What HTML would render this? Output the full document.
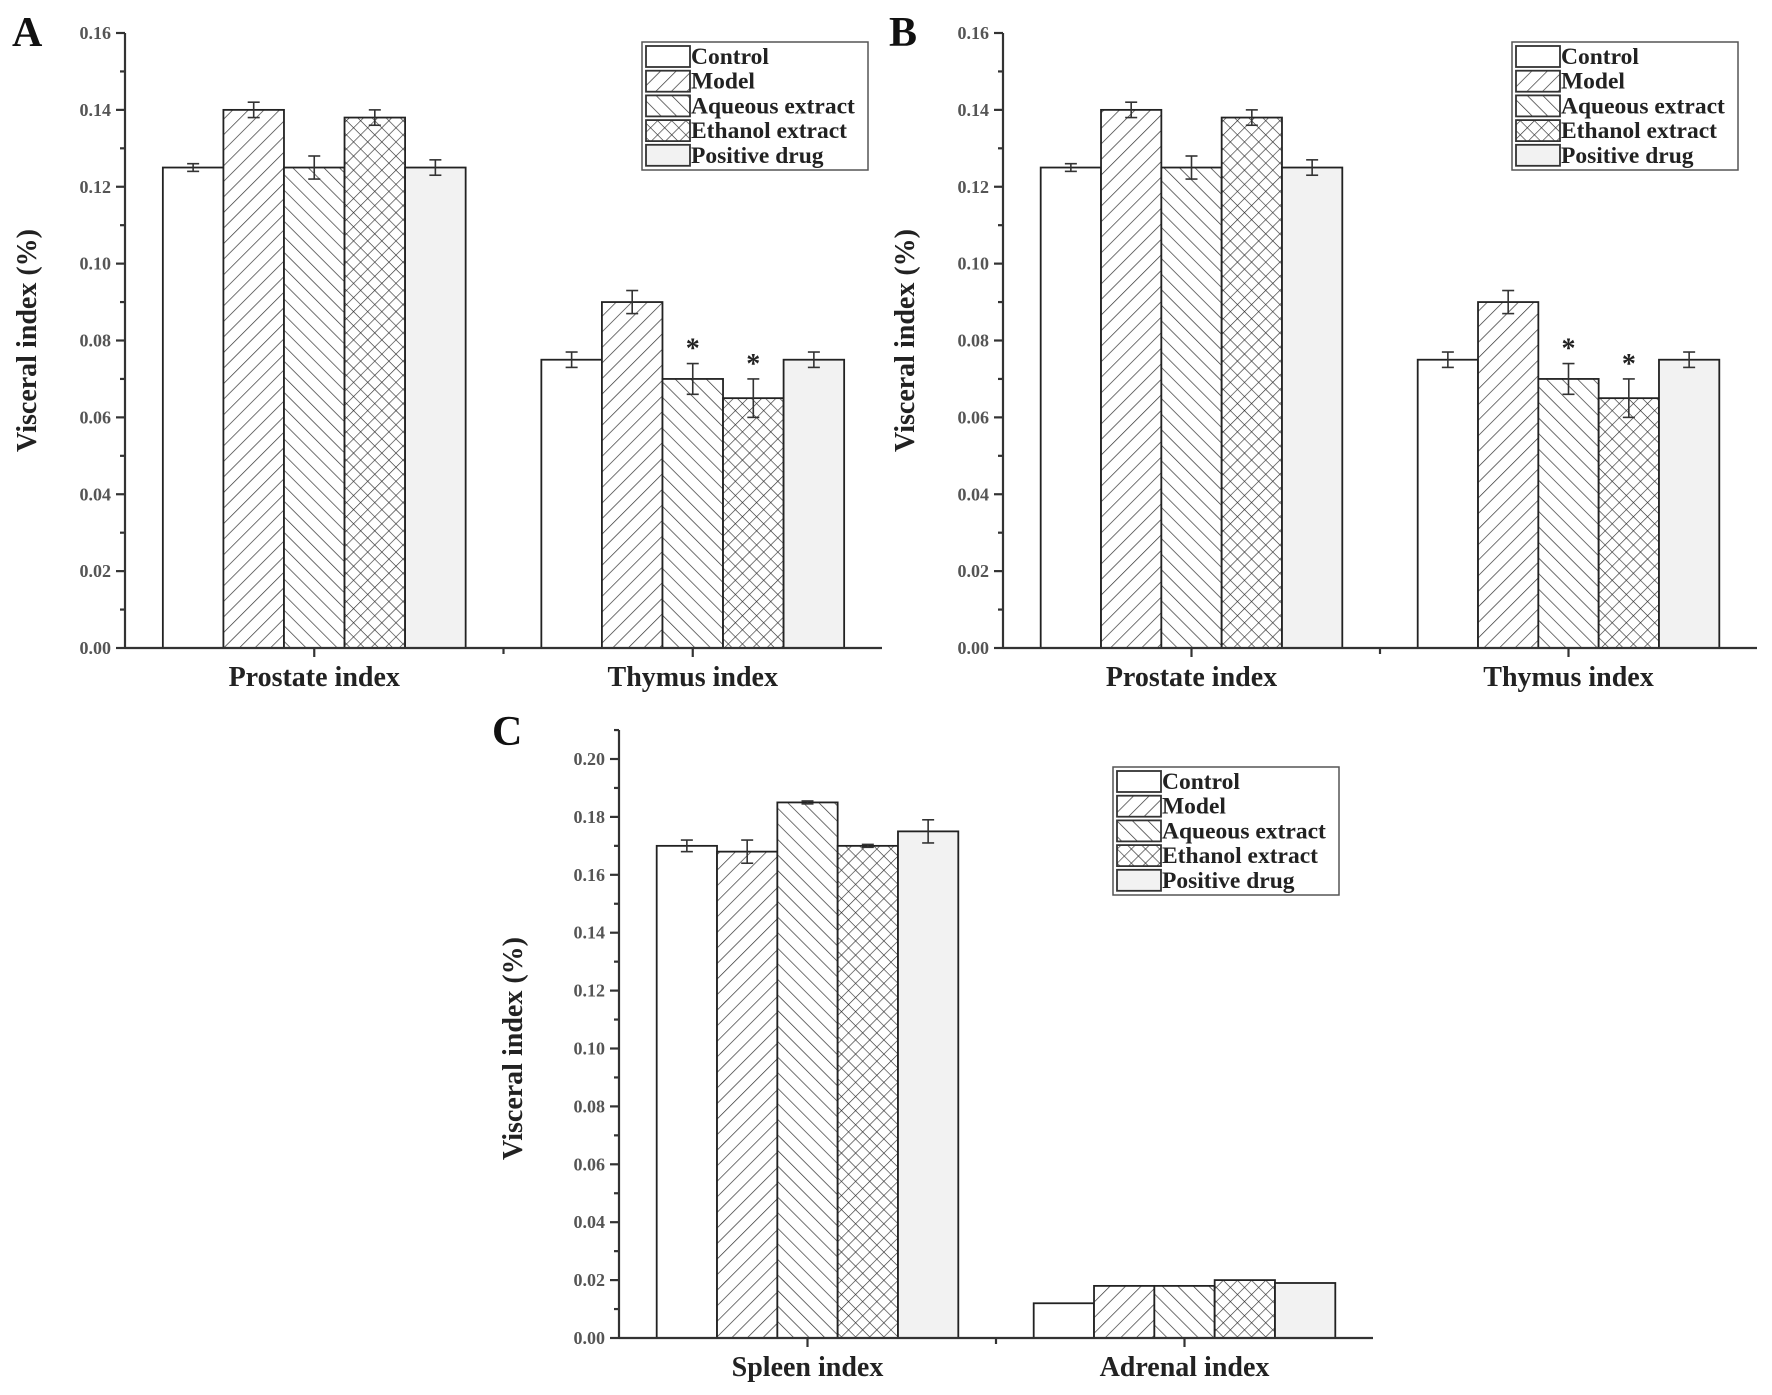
<!DOCTYPE html>
<html><head><meta charset="utf-8">
<style>
html,body{margin:0;padding:0;background:#fff;}
svg{display:block;font-family:"Liberation Serif",serif;}
</style></head>
<body>
<svg id="fig" width="1772" height="1395" viewBox="0 0 1772 1395" xmlns="http://www.w3.org/2000/svg">
<defs>
<pattern id="pFwd" patternUnits="userSpaceOnUse" width="11" height="11" patternTransform="rotate(45)"><rect width="11" height="11" fill="#fff"/><line x1="0" y1="0" x2="0" y2="11" stroke="#333" stroke-width="1.4"/></pattern>
<pattern id="pBack" patternUnits="userSpaceOnUse" width="11" height="11" patternTransform="rotate(-45)"><rect width="11" height="11" fill="#fff"/><line x1="0" y1="0" x2="0" y2="11" stroke="#333" stroke-width="1.4"/></pattern>
<pattern id="pCross" patternUnits="userSpaceOnUse" width="10" height="10" patternTransform="rotate(45)"><rect width="10" height="10" fill="#fff"/><line x1="0" y1="0" x2="0" y2="10" stroke="#333" stroke-width="1.3"/><line x1="0" y1="0" x2="10" y2="0" stroke="#333" stroke-width="1.3"/></pattern>
</defs>
</svg>
<script>
const seriesNames = ["Control","Model","Aqueous extract","Ethanol extract","Positive drug"];
const catsAB = ["Prostate index","Thymus index"];
const valsAB = [[0.125,0.075],[0.140,0.090],[0.125,0.070],[0.138,0.065],[0.125,0.075]];
const errsAB = [[0.001,0.002],[0.002,0.003],[0.003,0.004],[0.002,0.005],[0.002,0.002]];
const starsAB = [[false,false],[false,false],[false,true],[false,true],[false,false]];
const ticksAB = ["0.00","0.02","0.04","0.06","0.08","0.10","0.12","0.14","0.16"];
const catsC = ["Spleen index","Adrenal index"];
const valsC = [[0.170,0.012],[0.168,0.018],[0.185,0.018],[0.170,0.020],[0.175,0.019]];
const errsC = [[0.002,0],[0.004,0],[0.0005,0],[0.0005,0],[0.004,0]];
const starsC = [[false,false],[false,false],[false,false],[false,false],[false,false]];
const ticksC = ["0.00","0.02","0.04","0.06","0.08","0.10","0.12","0.14","0.16","0.18","0.20"];

const fills = ["#fff","url(#pFwd)","url(#pBack)","url(#pCross)","#f2f2f2"];
const NS = "http://www.w3.org/2000/svg";
const svg = document.getElementById('fig');
function mk(tag, attrs, parent, text){
  const e = document.createElementNS(NS, tag);
  for (const k in attrs) e.setAttribute(k, attrs[k]);
  if (text !== undefined) e.textContent = text;
  parent.appendChild(e);
  return e;
}
function panel(p){
  const g = mk('g', {}, svg);
  
  
  const ymax = parseFloat(p.ticks[p.ticks.length-1]);
  const yS = v => p.y0 - (v / ymax) * (p.y0 - p.yTop);
  const catW = (p.x1 - p.x0) / p.cats.length;
  const xC = i => p.x0 + catW * (i + 0.5);
  const bw = catW * 0.8 / seriesNames.length;
  const L = mk('text', {x:p.lx, y:p.ly, 'font-size':42, 'font-weight':'bold', fill:'#111'}, g, p.id);
  
  
  for (let s = 0; s < seriesNames.length; s++){
    for (let c = 0; c < p.cats.length; c++){
      const v = p.vals[s][c];
      const x = xC(c) - catW*0.4 + s*bw;
      const r = mk('rect', {x:x, y:yS(v), width:bw, height:p.y0 - yS(v), fill:fills[s], stroke:'#222', 'stroke-width':1.8}, g);
      
      
      const e = p.errs[s][c];
      if (e > 0){
        const cx = x + bw/2;
        const eg = mk('g', {stroke:'#333','stroke-width':1.6}, g);
        
        
        mk('line', {x1:cx, x2:cx, y1:yS(v+e), y2:yS(v-e)}, eg);
        mk('line', {x1:cx-6, x2:cx+6, y1:yS(v+e), y2:yS(v+e)}, eg);
        mk('line', {x1:cx-6, x2:cx+6, y1:yS(v-e), y2:yS(v-e)}, eg);
      }
      if (p.stars[s][c]){
        const st = mk('text', {x:x+bw/2, y:yS(v+e)-6, 'text-anchor':'middle', 'font-size':28, 'font-weight':'bold', fill:'#222'}, g, '*');
        
        
      }
    }
  }
  const ax = mk('g', {stroke:'#333','stroke-width':2.2}, g);
  
  
  mk('line', {x1:p.x0, x2:p.x0, y1:p.axTop, y2:p.y0+1}, ax);
  mk('line', {x1:p.x0, x2:p.x1, y1:p.y0, y2:p.y0}, ax);
  const step = parseFloat(p.ticks[1]);
  for (let i = 0; i < p.ticks.length; i++){
    const v = parseFloat(p.ticks[i]);
    const y = yS(v);
    mk('line', {x1:p.x0-9, x2:p.x0, y1:y, y2:y}, ax);
    if (i < p.ticks.length-1 || p.axTop < yS(v+step/2)) mk('line', {x1:p.x0-5, x2:p.x0, y1:yS(v+step/2), y2:yS(v+step/2)}, ax);
    const t = mk('text', {x:p.x0-14, y:y+6, 'text-anchor':'end', 'font-size':18, 'font-weight':'bold', fill:'#555'}, g, p.ticks[i]);
    
    
  }
  for (let c = 0; c < p.cats.length; c++){
    mk('line', {x1:xC(c), x2:xC(c), y1:p.y0, y2:p.y0+9}, ax);
    if (c < p.cats.length-1) mk('line', {x1:xC(c)+catW/2, x2:xC(c)+catW/2, y1:p.y0, y2:p.y0+6}, ax);
    const t = mk('text', {x:xC(c), y:p.y0+38, 'text-anchor':'middle', 'font-size':28, 'font-weight':'bold', fill:'#222'}, g, p.cats[c]);
    
    
  }
  const yt = mk('text', {x:0, y:0, transform:`translate(${p.ytx},${(p.y0+p.yTop)/2}) rotate(-90)`, 'text-anchor':'middle', 'font-size':28, 'font-weight':'bold', fill:'#222'}, g, 'Visceral index (%)');
  
  
  const lg = mk('g', {}, g);
  
  
  mk('rect', {x:p.legX, y:p.legY, width:226, height:128, fill:'#fff', stroke:'#555', 'stroke-width':1.5}, lg);
  for (let s = 0; s < seriesNames.length; s++){
    const ry = p.legY + 4 + s*24.7;
    const en = mk('g', {}, lg);
    
    
    mk('rect', {x:p.legX+4, y:ry, width:44, height:21, fill:fills[s], stroke:'#333', 'stroke-width':1.8}, en);
    mk('text', {x:p.legX+49, y:ry+18, 'font-size':23.5, 'font-weight':'bold', fill:'#222'}, en, seriesNames[s]);
  }
}
panel({id:'A', x0:125, x1:882, y0:648, yTop:33, axTop:33, ticks:ticksAB, cats:catsAB, vals:valsAB, errs:errsAB, stars:starsAB, lx:12, ly:46, ytx:36, legX:642, legY:42});
panel({id:'B', x0:1003, x1:1757, y0:648, yTop:33, axTop:33, ticks:ticksAB, cats:catsAB, vals:valsAB, errs:errsAB, stars:starsAB, lx:889, ly:46, ytx:914, legX:1512, legY:42});
panel({id:'C', x0:619, x1:1373, y0:1338, yTop:759, axTop:730, ticks:ticksC, cats:catsC, vals:valsC, errs:errsC, stars:starsC, lx:492, ly:745, ytx:522, legX:1113, legY:767});
</script>
</body></html>
